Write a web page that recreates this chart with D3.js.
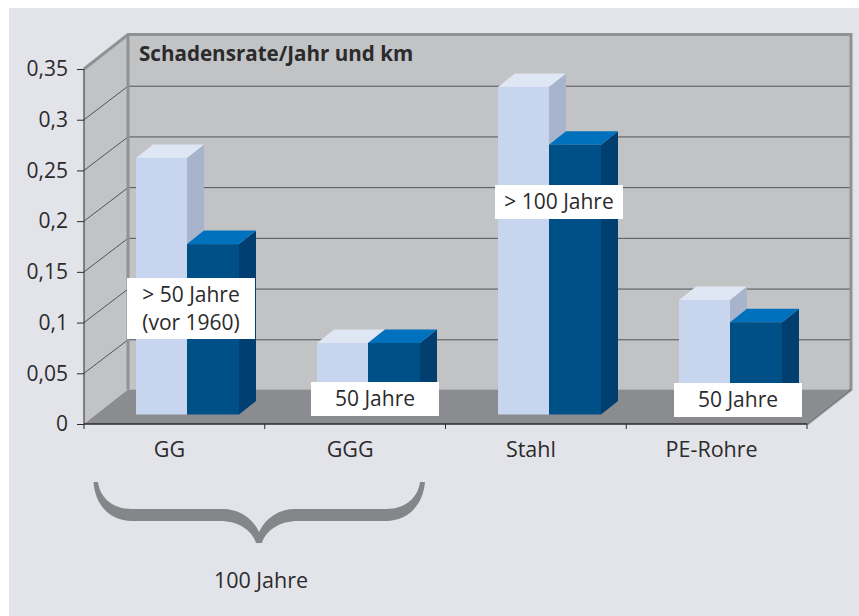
<!DOCTYPE html>
<html>
<head>
<meta charset="utf-8">
<style>
body { margin: 0; background: #fff; }
text { font-family: "Open Sans", sans-serif; fill: #2b2a2c; }
</style>
<script src="https://cdn.jsdelivr.net/npm/d3@7"></script>
</head>
<body>
<div id="chart-area"></div>
<script>
var categories = ["GG", "GGG", "Stahl", "PE-Rohre"];
var lightValues = [0.253, 0.0705, 0.323, 0.113];
var darkValues = [0.168, 0.0705, 0.266, 0.091];
var yTicks = [0, 0.05, 0.1, 0.15, 0.2, 0.25, 0.3, 0.35];
var yTickLabels = ["0", "0,05", "0,1", "0,15", "0,2", "0,25", "0,3", "0,35"];
var boxLabels = [["> 50 Jahre", "(vor 1960)"], ["50 Jahre"], ["> 100 Jahre"], ["50 Jahre"]];

var svg = d3.select("#chart-area").append("svg")
    .attr("width", 859)
    .attr("height", 616)
    .style("display", "block");

svg.append("rect")
    .attr("x", 9).attr("y", 8)
    .attr("width", 850).attr("height", 608)
    .attr("fill", "#e3e4ea");

var x = d3.scaleBand().domain(categories).range([84, 807]);
// bars stand a little behind the front edge, so they get their own band scale
var xBars = d3.scaleBand().domain(categories).range([96.5, 820.5]);
var y = d3.scaleLinear().domain([0, 0.35]).range([424, 69]);

// depth of the 3d box
var wallDx = 44, wallDy = -34.5;
var left = x.range()[0], right = x.range()[1], y0 = y(0), yTop = y(0.35);

function poly(points, fill) {
    return svg.append("polygon")
        .attr("points", points.map((p) => p.join(",")).join(" "))
        .attr("fill", fill);
}

// walls and floor
poly([[left + wallDx, yTop + wallDy], [right + wallDx, yTop + wallDy], [right + wallDx, y0 + wallDy], [left + wallDx, y0 + wallDy]], "#c2c3c5");
poly([[left, yTop], [left + wallDx, yTop + wallDy], [left + wallDx, y0 + wallDy], [left, y0]], "#c2c3c5");
poly([[left, y0], [left + wallDx, y0 + wallDy], [right + wallDx, y0 + wallDy], [right, y0]], "#8a8c90");

// gridlines
yTicks.slice(1, -1).forEach((t) => {
    svg.append("polyline")
        .attr("points", [[left, y(t)], [left + wallDx, y(t) + wallDy + 1], [right + wallDx, y(t) + wallDy + 1]].map((p) => p.join(",")).join(" "))
        .attr("fill", "none")
        .attr("stroke", "#535456")
        .attr("stroke-width", 1);
});

// wall border
svg.append("polyline")
    .attr("points", [[left, yTop], [left + wallDx, yTop + wallDy], [right + wallDx, yTop + wallDy], [right + wallDx, y0 + wallDy], [right, y0]].map((p) => p.join(",")).join(" "))
    .attr("fill", "none")
    .attr("stroke", "#8f9195")
    .attr("stroke-width", 3);
svg.append("line")
    .attr("x1", left + wallDx).attr("x2", left + wallDx)
    .attr("y1", yTop + wallDy).attr("y2", y0 + wallDy)
    .attr("stroke", "#8f9195")
    .attr("stroke-width", 3);
svg.append("polyline")
    .attr("points", [[right, y0], [right + wallDx, y0 + wallDy]].map((p) => p.join(",")).join(" "))
    .attr("fill", "none")
    .attr("stroke", "#6f7074")
    .attr("stroke-width", 1);

// bars
var lightW = 51, darkW = 52, depthX = 17, depthY = -13.5, barShiftY = -9.5;

function drawBar(i, value, offset, barW, front, top, side) {
    var x0 = xBars(categories[i]) + xBars.bandwidth() / 2 + offset;
    var yb = y(0) + barShiftY;
    var yt = y(value) + barShiftY;
    poly([[x0 + barW, yt], [x0 + barW + depthX, yt + depthY], [x0 + barW + depthX, yb + depthY], [x0 + barW, yb]], side);
    poly([[x0, yt], [x0 + depthX, yt + depthY], [x0 + barW + depthX, yt + depthY], [x0 + barW, yt]], top);
    svg.append("rect")
        .attr("x", x0).attr("y", yt)
        .attr("width", barW).attr("height", yb - yt)
        .attr("fill", front);
}

categories.forEach((c, i) => {
    drawBar(i, lightValues[i], -lightW, lightW, "#c7d5ee", "#dfe6f4", "#a7b4cc");
    drawBar(i, darkValues[i], 0, darkW, "#005088", "#0071bc", "#003f70");
});

// white label boxes
var boxX = [127, 311, 495, 674];
var boxY = [278, 382, 185, 383];
var boxH = [61, 34, 34, 34];

boxLabels.forEach((lines, i) => {
    svg.append("rect")
        .attr("x", boxX[i]).attr("y", boxY[i])
        .attr("width", 128).attr("height", boxH[i])
        .attr("fill", "#fff");
    lines.forEach((line, j) => {
        svg.append("text")
            .attr("x", boxX[i] + 64)
            .attr("y", boxY[i] + 24 + j * 28)
            .attr("text-anchor", "middle")
            .attr("font-size", 21)
            .text(line);
    });
});

// axes
var yAxis = d3.axisLeft(y)
    .tickValues(yTicks)
    .tickFormat((d, i) => yTickLabels[i]);
var yG = svg.append("g").attr("transform", "translate(" + left + ",0)").call(yAxis);
yG.select(".domain").attr("stroke", "#2b2a2c").attr("d", "M0," + yTop + "V" + y0);
yG.selectAll(".tick line").attr("stroke", "#2b2a2c").attr("x1", 0).attr("x2", -7);
yG.selectAll(".tick text").attr("x", -16).style("font-size", "21px").style("font-family", "'Open Sans', sans-serif");

var xAxis = d3.axisBottom(x).tickSize(0).tickPadding(18);
var xG = svg.append("g").attr("transform", "translate(0," + y0 + ")").call(xAxis);
xG.select(".domain").attr("stroke", "#2b2a2c").attr("stroke-width", 1.5).attr("d", "M" + left + ",0H" + right);
xG.selectAll(".tick text").attr("dx", -5).style("font-size", "21.5px").style("font-family", "'Open Sans', sans-serif");

// ticks sit between the categories
categories.concat([null]).forEach((c, i) => {
    var tx = left + i * x.step();
    svg.append("line")
        .attr("x1", tx).attr("x2", tx)
        .attr("y1", y0).attr("y2", y0 + 5)
        .attr("stroke", "#2b2a2c");
});

// title
svg.append("text")
    .attr("x", 139).attr("y", 61)
    .attr("font-size", 20.6)
    .attr("font-weight", "bold")
    .text("Schadensrate/Jahr und km");

// brace under GG and GGG
svg.append("path")
    .attr("d", "M93.5,482C95,505 110,521 132,521L220,521C238,521 252,530 256,543L262,543C266,530 280,521 298,521L386,521C408,521 423,505 425,482L420,482C418,498 405,509 386,509L295,509C280,509 266,517 259,532C252,517 238,509 223,509L132,509C113,509 100,498 98,482Z")
    .attr("fill", "#848689");

svg.append("text")
    .attr("x", 261).attr("y", 588)
    .attr("text-anchor", "middle")
    .attr("font-size", 21.5)
    .text("100 Jahre");
</script>
</body>
</html>
